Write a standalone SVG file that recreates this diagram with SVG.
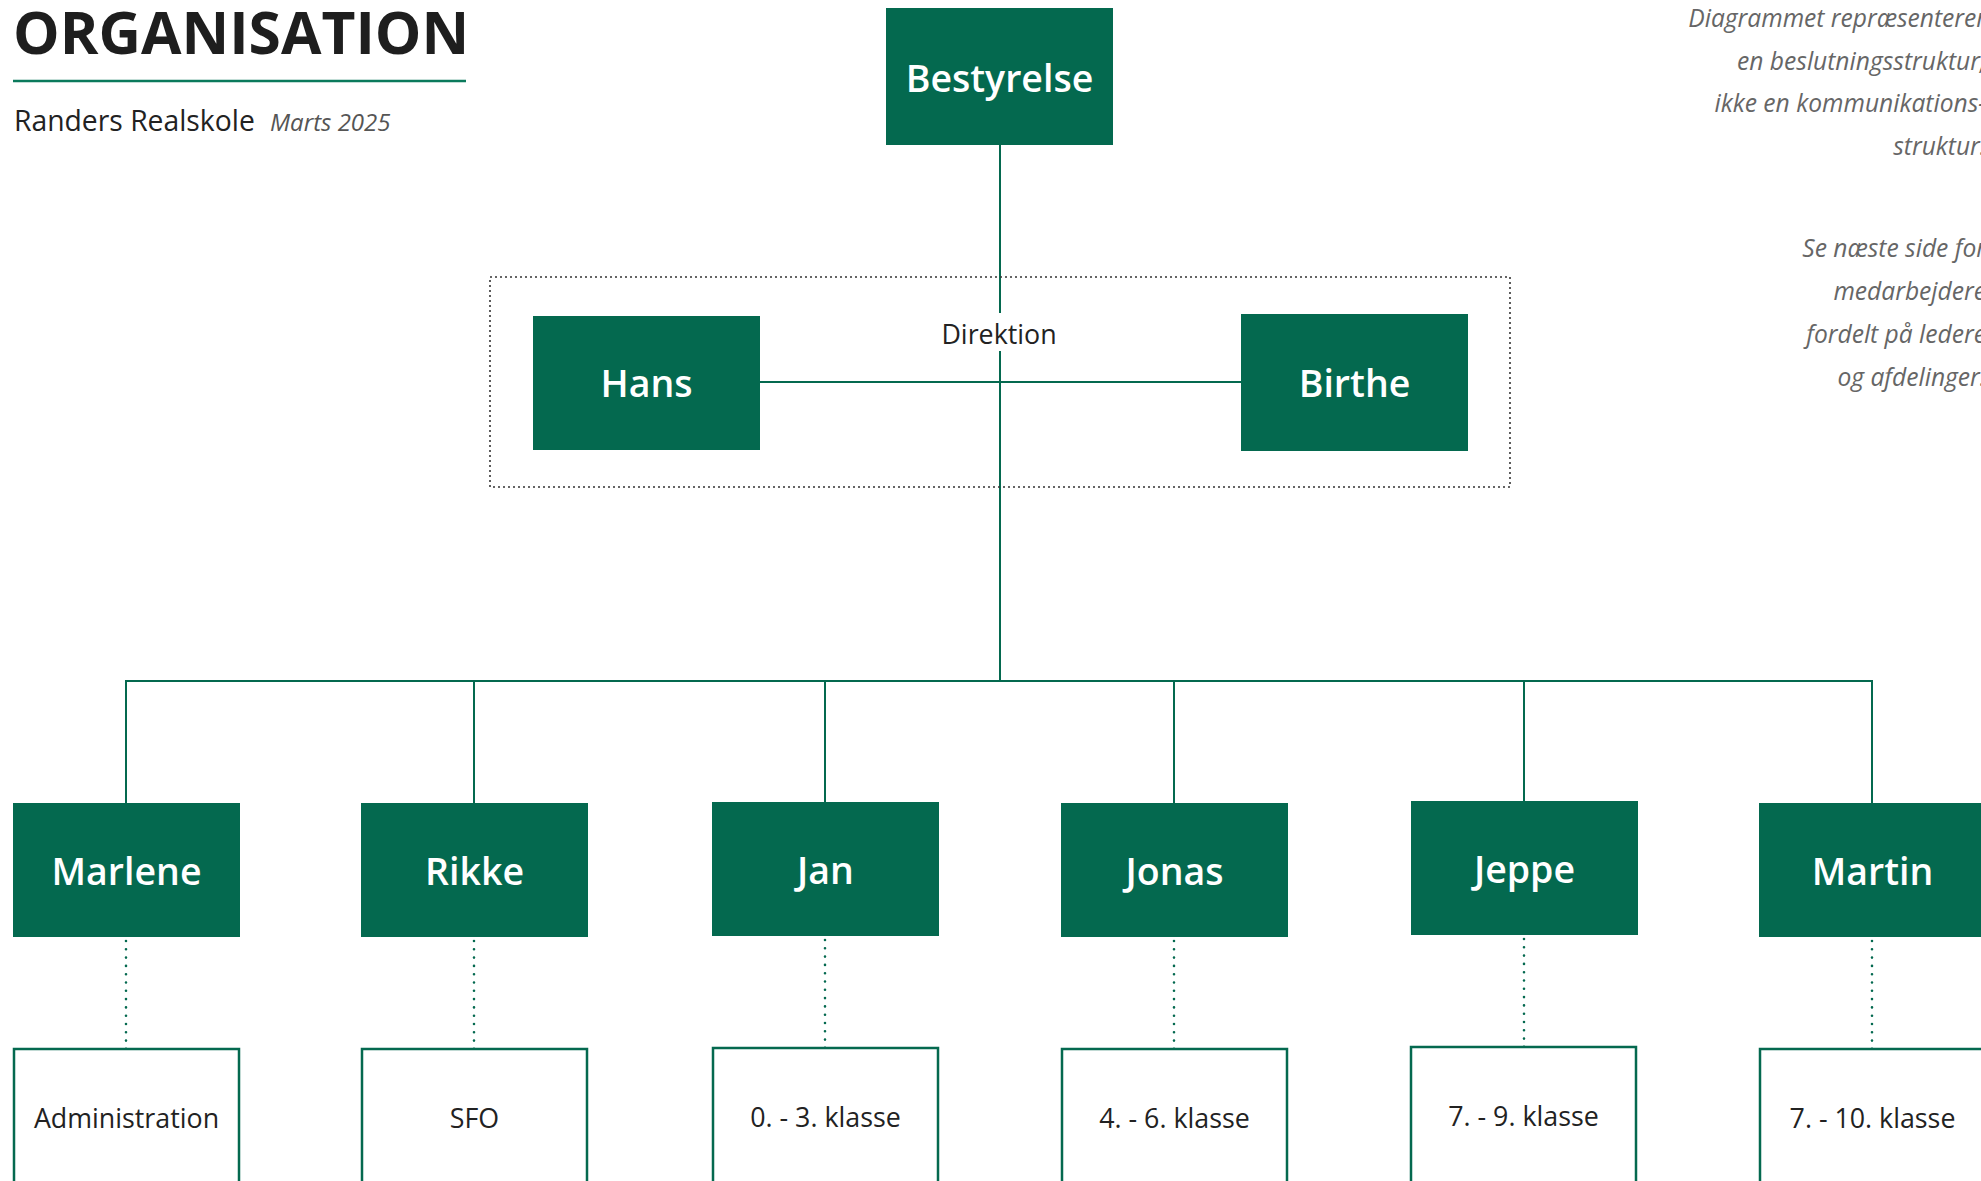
<svg xmlns="http://www.w3.org/2000/svg" width="1981" height="1181" viewBox="0 0 1981 1181">
<style>
.lead{fill:#04694f}
.lt{font-family:"Open Sans","Noto Sans","Liberation Sans",sans-serif;font-weight:600;font-size:37.5px;fill:#ffffff;text-anchor:middle}
.unit{fill:#ffffff;stroke:#04694f;stroke-width:2.5}
.ut{font-family:"Open Sans","Noto Sans","Liberation Sans",sans-serif;font-size:26.8px;fill:#222222;text-anchor:middle}
.conn{stroke:#04694f;stroke-width:2;fill:none}
.dot{stroke:#04694f;stroke-width:2.6;stroke-dasharray:0 8.3;stroke-linecap:round;fill:none}
.note{font-family:"Open Sans","Noto Sans","Liberation Sans",sans-serif;font-style:italic;font-size:24.6px;fill:#666666;text-anchor:end}
</style>
<rect width="1981" height="1181" fill="#ffffff"/>
<g id="header">
<text x="13" y="54" font-family="'Open Sans','Noto Sans','Liberation Sans',sans-serif" font-weight="700" font-size="58.7" fill="#1e1e1e">ORGANISATION</text>
<line x1="13" y1="81" x2="466" y2="81" stroke="#0b7a5c" stroke-width="2.5"/>
<text x="14" y="130.5" font-family="'Open Sans','Noto Sans','Liberation Sans',sans-serif" font-size="28.3" fill="#222222">Randers Realskole</text>
<text x="270" y="130.5" font-family="'Open Sans','Noto Sans','Liberation Sans',sans-serif" font-style="italic" font-size="24" fill="#555555">Marts 2025</text>
</g>
<g id="notes">
<text class="note" x="1986" y="27">Diagrammet repræsenterer</text>
<text class="note" x="1986" y="70">en beslutningsstruktur,</text>
<text class="note" x="1986" y="112">ikke en kommunikations-</text>
<text class="note" x="1986" y="155">struktur.</text>
<text class="note" x="1986" y="257">Se næste side for</text>
<text class="note" x="1986" y="300">medarbejdere</text>
<text class="note" x="1986" y="343">fordelt på ledere</text>
<text class="note" x="1986" y="386">og afdelinger.</text>
</g>
<g id="connectors">
<path class="conn" d="M1000 145V313M1000 351V681M760 382H1241"/>
<path class="conn" d="M126 803V681H1872V803M474 681V803M825 681V802M1174 681V803M1524 681V801"/>
<path class="dot" d="M126 941V1049M474 941V1049M825 940V1048M1174 941V1049M1524 939V1047M1872 941V1049"/>
</g>
<g id="direktion">
<rect x="490" y="277" width="1020" height="210" fill="none" stroke="#333333" stroke-width="1.6" stroke-dasharray="2 3"/>
<text class="ut" x="999" y="343.5">Direktion</text>
</g>
<g id="bestyrelse"><rect class="lead" x="886" y="8" width="227" height="137"/><text class="lt" x="999.5" y="91.5">Bestyrelse</text></g>
<g id="hans"><rect class="lead" x="533" y="316" width="227" height="134"/><text class="lt" x="646.5" y="397">Hans</text></g>
<g id="birthe"><rect class="lead" x="1241" y="314" width="227" height="137"/><text class="lt" x="1354.5" y="397">Birthe</text></g>
<g id="marlene"><rect class="lead" x="13" y="803" width="227" height="134"/><text class="lt" x="126.5" y="884.5">Marlene</text></g>
<g id="rikke"><rect class="lead" x="361" y="803" width="227" height="134"/><text class="lt" x="474.5" y="884.5">Rikke</text></g>
<g id="jan"><rect class="lead" x="712" y="802" width="227" height="134"/><text class="lt" x="825.5" y="883.5">Jan</text></g>
<g id="jonas"><rect class="lead" x="1061" y="803" width="227" height="134"/><text class="lt" x="1174.5" y="884.5">Jonas</text></g>
<g id="jeppe"><rect class="lead" x="1411" y="801" width="227" height="134"/><text class="lt" x="1524.5" y="882.5">Jeppe</text></g>
<g id="martin"><rect class="lead" x="1759" y="803" width="227" height="134"/><text class="lt" x="1872.5" y="884.5">Martin</text></g>
<g id="administration"><rect class="unit" x="14" y="1049" width="225" height="170"/><text class="ut" x="126.5" y="1127.5">Administration</text></g>
<g id="sfo"><rect class="unit" x="362" y="1049" width="225" height="170"/><text class="ut" x="474.5" y="1127.5">SFO</text></g>
<g id="klasse0-3"><rect class="unit" x="713" y="1048" width="225" height="170"/><text class="ut" x="825.5" y="1126.5">0. - 3. klasse</text></g>
<g id="klasse4-6"><rect class="unit" x="1062" y="1049" width="225" height="170"/><text class="ut" x="1174.5" y="1127.5">4. - 6. klasse</text></g>
<g id="klasse7-9"><rect class="unit" x="1411" y="1047" width="225" height="170"/><text class="ut" x="1523.5" y="1125.5">7. - 9. klasse</text></g>
<g id="klasse7-10"><rect class="unit" x="1760" y="1049" width="225" height="170"/><text class="ut" x="1872.5" y="1127.5">7. - 10. klasse</text></g>
</svg>
